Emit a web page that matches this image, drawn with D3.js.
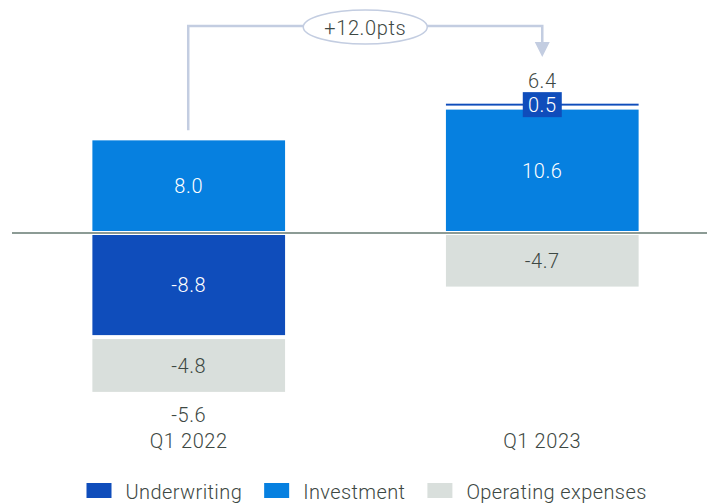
<!DOCTYPE html>
<html>
<head>
<meta charset="utf-8">
<script src="https://cdn.jsdelivr.net/npm/d3@7"></script>
<style>
  html, body { margin: 0; padding: 0; background: #fff; }
  svg { display: block; font-family: Roboto, "Liberation Sans", sans-serif; font-weight: 300; }
  svg text { letter-spacing: 0.6px; }
  svg .legend text { letter-spacing: 0.4px; }
</style>
</head>
<body>
<svg id="chart" width="707" height="503"></svg>
<script>
// Quarterly contributions, in points
const periods = ["Q1 2022", "Q1 2023"];
const seriesNames = ["Investment", "Underwriting", "Operating expenses"];
const investment = [8.0, 10.6];
const underwriting = [-8.8, 0.5];
const operatingExpenses = [-4.8, -4.7];
const legendOrder = ["Underwriting", "Investment", "Operating expenses"];

const colors = {
  "Underwriting": "#0f4dbb",
  "Investment": "#0680e0",
  "Operating expenses": "#d9dfdc"
};
const labelColors = {
  "Underwriting": "#ffffff",
  "Investment": "#ffffff",
  "Operating expenses": "#3d4843"
};
const textColor = "#3d4843";
const connectorColor = "#c3cde1";
const fontSize = 20;

// One decimal, plain hyphen for negatives
const fmt = d3.formatLocale({ decimal: ".", thousands: ",", grouping: [3], currency: ["", ""], minus: "-" }).format(".1f");

const rows = periods.map((p, i) => ({
  period: p,
  "Investment": investment[i],
  "Underwriting": underwriting[i],
  "Operating expenses": operatingExpenses[i]
}));
const totals = rows.map(r => seriesNames.reduce((s, k) => s + r[k], 0));

const svg = d3.select("#chart");

const x = d3.scaleBand()
  .domain(periods)
  .range([4, 727])
  .paddingInner(0.455)
  .paddingOuter(0.25);

const y = d3.scaleLinear()
  .domain([-14, 12])
  .range([233 + 14 * 11.83, 233 - 12 * 11.83]);

const stacked = d3.stack()
  .keys(seriesNames)
  .offset(d3.stackOffsetDiverging)(rows);

const gap = 4;

// Stacked segments
const layer = svg.append("g").selectAll("g")
  .data(stacked)
  .join("g")
  .attr("fill", s => colors[s.key]);

layer.selectAll("rect")
  .data(s => s.map(d => ({ key: s.key, d })))
  .join("rect")
  .attr("x", o => x(o.d.data.period))
  .attr("width", x.bandwidth())
  .attr("y", o => y(o.d[1]) + gap / 2)
  .attr("height", o => Math.max(0, y(o.d[0]) - y(o.d[1]) - gap));

// Zero line
svg.append("line")
  .attr("x1", 12).attr("x2", 707)
  .attr("y1", y(0)).attr("y2", y(0))
  .attr("stroke", "#8c9b95")
  .attr("stroke-width", 2);

// Segment value labels
stacked.forEach(s => {
  s.forEach(d => {
    const v = d.data[s.key];
    const cx = x(d.data.period) + x.bandwidth() / 2;
    const cy = (y(d[0]) + y(d[1])) / 2;
    const small = Math.abs(y(d[0]) - y(d[1])) < 24;
    if (small) {
      svg.append("rect")
        .attr("x", cx - 19.5).attr("y", cy - 12.5)
        .attr("width", 39).attr("height", 25)
        .attr("fill", colors[s.key]);
    }
    svg.append("text")
      .attr("x", cx).attr("y", cy)
      .attr("dy", "0.36em")
      .attr("text-anchor", "middle")
      .attr("font-size", fontSize)
      .attr("fill", labelColors[s.key])
      .text(fmt(v));
  });
});

// Totals above or below each stack
rows.forEach((r, i) => {
  const t = totals[i];
  const cx = x(r.period) + x.bandwidth() / 2;
  const top = d3.max(stacked, s => s[i][1]);
  const bottom = d3.min(stacked, s => s[i][0]);
  svg.append("text")
    .attr("x", cx)
    .attr("y", t >= 0 ? y(top) - 14 : y(bottom) + 28)
    .attr("text-anchor", "middle")
    .attr("font-size", fontSize)
    .attr("fill", textColor)
    .text(fmt(t));
});

// Category labels
svg.append("g").selectAll("text")
  .data(periods)
  .join("text")
  .attr("x", p => x(p) + x.bandwidth() / 2)
  .attr("y", 448)
  .attr("text-anchor", "middle")
  .attr("font-size", fontSize)
  .attr("fill", textColor)
  .text(p => p);

// Change connector between the two totals
const x0 = x(periods[0]) + x.bandwidth() / 2 - 0.5;
const x1 = x(periods[1]) + x.bandwidth() / 2;
const startY = y(investment[0]) - 8;
const lineY = 26;
const tipY = 57;
svg.append("path")
  .attr("d", `M${x0},${startY}V${lineY}H${x1}V${tipY - 15}`)
  .attr("fill", "none")
  .attr("stroke", connectorColor)
  .attr("stroke-width", 2.5);
svg.append("path")
  .attr("d", `M${x1 - 7.5},${tipY - 15}L${x1 + 7.5},${tipY - 15}L${x1},${tipY}Z`)
  .attr("fill", connectorColor);

const mid = (x0 + x1) / 2;
svg.append("ellipse")
  .attr("cx", mid).attr("cy", lineY + 1)
  .attr("rx", 62).attr("ry", 17)
  .attr("fill", "#fff")
  .attr("stroke", connectorColor)
  .attr("stroke-width", 1.5);
const delta = totals[1] - totals[0];
svg.append("text")
  .attr("x", mid).attr("y", 34.5)
  .attr("text-anchor", "middle")
  .attr("font-size", fontSize)
  .attr("fill", textColor)
  .text((delta >= 0 ? "+" : "") + fmt(delta) + "pts");

// Legend
const legend = svg.append("g").attr("class", "legend").attr("transform", "translate(86.5,0)");
let lx = 0;
legendOrder.forEach(k => {
  const g = legend.append("g").attr("transform", `translate(${lx},0)`);
  g.append("rect")
    .attr("x", 0).attr("y", 483)
    .attr("width", 25).attr("height", 15)
    .attr("fill", colors[k]);
  const t = g.append("text")
    .attr("x", 39).attr("y", 498.5)
    .attr("font-size", fontSize)
    .attr("fill", textColor)
    .text(k);
  lx += 39 + t.node().getComputedTextLength() + 22;
});
</script>
</body>
</html>
